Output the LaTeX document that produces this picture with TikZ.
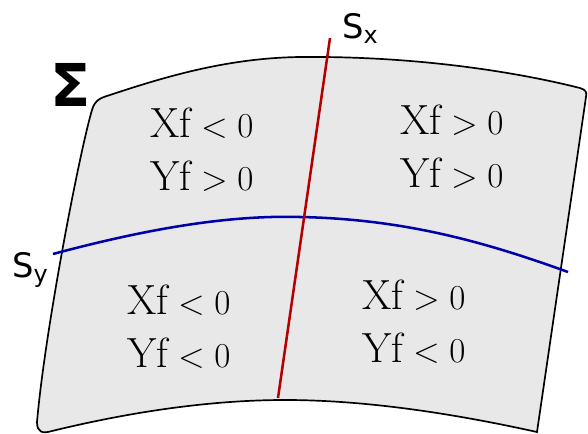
\documentclass[tikz,border=0pt]{standalone}
\usepackage{fontspec}
\setsansfont{DejaVu Sans}
\usepackage{xcolor}
\definecolor{sheetgray}{RGB}{232,232,232}
\definecolor{sxred}{RGB}{180,0,0}
\definecolor{syblue}{RGB}{0,0,170}
\usetikzlibrary{positioning}
\tikzset{
  regionbox/.style={align=center, inner sep=0pt,
    font=\fontsize{30}{37.7}\selectfont},
  curvelabel/.style={inner sep=0pt, font=\sffamily\fontsize{24}{28}\selectfont},
  sheetline/.style={draw=black, fill=sheetgray, line width=1.2pt},
  sxline/.style={draw=sxred, line width=1.8pt},
  syline/.style={draw=syblue, line width=1.8pt},
}

\begin{document}
\begin{tikzpicture}[x=0.025cm, y=-0.025cm]
  \useasboundingbox (0,0) rectangle (588,434);

  % the surface patch
  \path[sheetline] (37,422)
    .. controls (45,330) and (80,150) .. (92,110)
    .. controls (95,100) and (100,98) .. (110,95)
    .. controls (170,75) and (230,58) .. (300,57)
    .. controls (400,56) and (500,68) .. (580,88)
    .. controls (586,90) and (587,92) .. (586,97)
    -- (537,432)
    .. controls (460,415) and (370,400) .. (285,400)
    .. controls (210,400) and (130,412) .. (52,431)
    .. controls (42,434) and (37,432) .. cycle;

  % the two curves
  \coordinate (sxtop) at (330,38);
  \coordinate (sxbot) at (278,398);
  \coordinate (syleft) at (53,254);
  \coordinate (symid) at (300,217);
  \coordinate (syright) at (568,272);
  \draw[syline] (syleft) .. controls (150,228) and (230,215) .. (symid)
    .. controls (400,219) and (480,240) .. (syright);
  \draw[sxline] (sxtop) -- (sxbot);

  % labels
  \node[curvelabel, anchor=base west] (sxlabel) at (342,38)
    {S\raisebox{-0.3ex}{\fontsize{17}{20}\selectfont x}};
  \node[curvelabel, anchor=base west] (sylabel) at (12,277)
    {S\raisebox{-0.3ex}{\fontsize{17}{20}\selectfont y}};
  \node[inner sep=0pt, font=\sffamily\bfseries\fontsize{42}{44}\selectfont]
    (sigma) at (71,85) {Σ};

  % sign regions
  \node[regionbox] (mp) at (202,150) {$\mathrm{Xf}<0$\\$\mathrm{Yf}>0$};
  \node[regionbox] (pp) at (452,147) {$\mathrm{Xf}>0$\\$\mathrm{Yf}>0$};
  \node[regionbox] (mm) at (179,327) {$\mathrm{Xf}<0$\\$\mathrm{Yf}<0$};
  \node[regionbox] (pm) at (414,322) {$\mathrm{Xf}>0$\\$\mathrm{Yf}<0$};
\end{tikzpicture}
\end{document}
